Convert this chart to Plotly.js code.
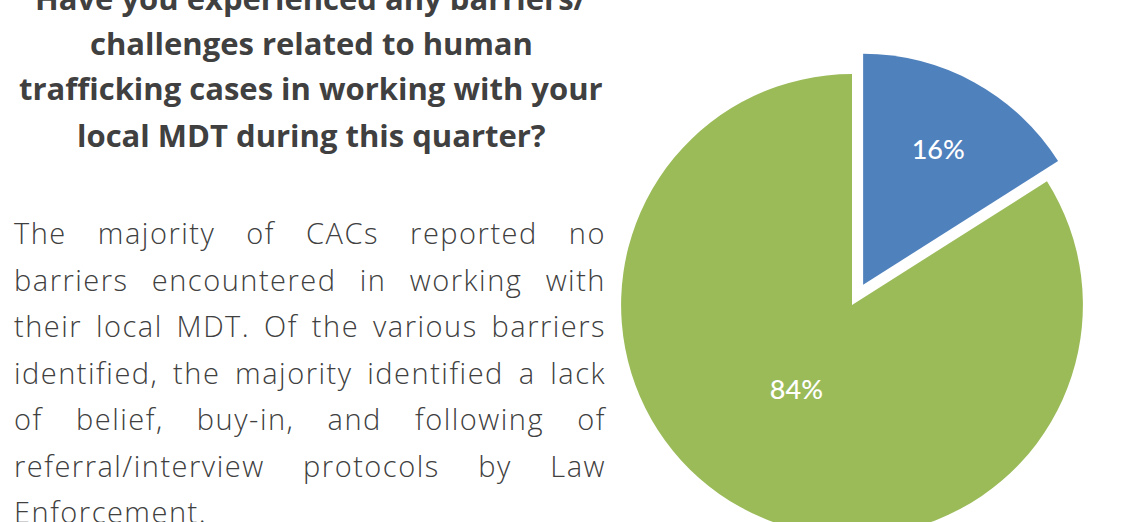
<!DOCTYPE html>
<html>
<head>
<meta charset="utf-8">
<script src="https://cdn.plot.ly/plotly-3.0.1.min.js"></script>
<style>
  body { margin: 0; width: 1135px; height: 522px; overflow: hidden; background: #fff; position: relative; }
  #myPlot { position: absolute; left: 0; top: -40px; width: 1135px; height: 620px; }
  #note {
    position: absolute; left: 14px; top: 210px; width: 592px;
    font-family: "Open Sans", Lato, sans-serif; font-weight: 300;
    font-size: 29px; line-height: 46.5px; color: #404040; letter-spacing: 1.5px;
  }
  #note span { display: block; text-align: justify; text-align-last: justify; white-space: nowrap; }
  #note span.last { text-align-last: left; }
</style>
</head>
<body>
<div id="myPlot"></div>
<div id="note"></div>
<script>
// Answers (percent of CACs)
var answers = ["Yes", "No"];
var shares = [16, 84];
var pulls = [0.1, 0];
var sliceColors = ["#4F81BD", "#9BBB59"];

// Question, one line per entry
var titleLines = [
    "Have you experienced any barriers/",
    "challenges related to human",
    "trafficking cases in working with your",
    "local MDT during this quarter?"
];

// Side note, one line per entry
var noteLines = [
    "The majority of CACs reported no",
    "barriers encountered in working with",
    "their local MDT. Of the various barriers",
    "identified, the majority identified a lack",
    "of belief, buy-in, and following of",
    "referral/interview protocols by Law",
    "Enforcement."
];

var note = document.getElementById("note");
for (var n = 0; n < noteLines.length; n++) {
    var s = document.createElement("span");
    s.textContent = noteLines[n];
    if (n == noteLines.length - 1) s.className = "last";
    note.appendChild(s);
}

var W = 1135, H = 620;

// Title lines as annotations so line spacing matches
var titleY = [38, 83, 128, 175];
var annotations = [];
for (var i = 0; i < titleLines.length; i++) {
    annotations.push({
        text: titleLines[i],
        xref: "paper", yref: "paper",
        x: 311 / W, y: 1 - titleY[i] / H,
        xanchor: "center", yanchor: "middle",
        showarrow: false,
        font: { family: "Open Sans, sans-serif", size: 31, color: "#404040", weight: 700 }
    });
}

// Pie
var cx = 852, cy = 345, half = 254;
var data = [{
    type: "pie",
    labels: answers,
    values: shares,
    pull: pulls,
    sort: false,
    direction: "clockwise",
    rotation: 0,
    marker: { colors: sliceColors },
    texttemplate: ["%{percent:.0%}", "%{percent:.0%}<br> "],
    textposition: "inside",
    insidetextorientation: "horizontal",
    textfont: { family: "Lato, sans-serif", size: 27, color: "#ffffff", weight: 500 },
    hoverinfo: "none",
    domain: {
        x: [(cx - half) / W, (cx + half) / W],
        y: [(H - cy - half) / H, (H - cy + half) / H]
    }
}];

var layout = {
    width: W,
    height: H,
    margin: { l: 0, r: 0, t: 0, b: 0 },
    showlegend: false,
    paper_bgcolor: "#ffffff",
    annotations: annotations
};

Plotly.newPlot("myPlot", data, layout, { displayModeBar: false, staticPlot: true });
</script>
</body>
</html>
